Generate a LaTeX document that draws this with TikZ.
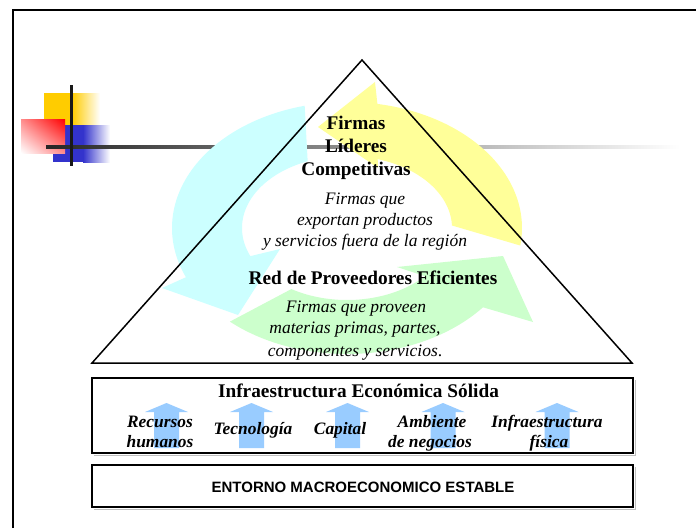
\documentclass[tikz,border=0pt]{standalone}
\usepackage{fontspec}
\usetikzlibrary{shadings}
\setmainfont{Liberation Serif}
\newfontfamily\arialfont{Liberation Sans}
\definecolor{cyanfill}{RGB}{204,255,255}
\definecolor{yellowfill}{RGB}{255,255,153}
\definecolor{greenfill}{RGB}{204,255,204}
\definecolor{arrowblue}{RGB}{153,204,255}
\definecolor{logoyellow}{RGB}{255,204,0}
\definecolor{logoblue}{RGB}{51,51,204}
\definecolor{logored}{RGB}{255,0,0}
\tikzset{
  ttl/.style={font=\fontsize{19.3}{22}\selectfont\bfseries, inner sep=0pt, text height=0.9em, text depth=0.05em},
  desc/.style={font=\fontsize{17.5}{20}\selectfont\itshape, inner sep=0pt, text height=0.9em, text depth=0.05em},
  word/.style={font=\fontsize{17.4}{20}\selectfont\bfseries\itshape, inner sep=0pt, text height=0.9em, text depth=0.05em},
  boxframe/.style={draw=black, line width=2pt},
  boxshadow/.style={draw=black!25, line width=1pt},
  upar/.style={fill=arrowblue},
  frameline/.style={line width=2.5pt, black},
}
\newcommand{\boxarrow}[1]{%
  \fill[upar] ({#1-12.5},448) -- ({#1-12.5},412) -- ({#1-21.5},412) -- (#1,403) -- ({#1+21.5},412) -- ({#1+12.5},412) -- ({#1+12.5},448) -- cycle;}
\begin{document}
\begin{tikzpicture}[x=1pt,y=-1pt]
\useasboundingbox (0,0) rectangle (696,528);
\fill[white] (0,0) rectangle (696,528);
% frame
\draw[frameline] (13,528) -- (13,10) -- (696,10);
% logo squares
\fill[logoyellow] (44,93) rectangle (72,125);
\shade[left color=logoyellow, right color=white] (72,93) rectangle (100,125);
\fill[logoblue] (53,125) rectangle (83,162);
\shade[left color=logoblue, right color=white] (83,125) rectangle (110,162);
\shade[upper right=logored, upper left=logored!45, lower right=logored!45, lower left=white] (21,119) rectangle (65,153);
% gradient rule
\shade[left color=black!85, middle color=black!22, right color=white] (46,145.5) rectangle (680,148.5);
\draw[line width=3pt, black!90] (71,85) -- (71,166);
% cycle arrows
\fill[cyanfill] plot[domain=256:157, samples=60, variable=\t] ({347+175*cos(\t)},{228+126*sin(\t)})
  -- (162,288) -- (238,315) -- (280,249)
  -- plot[domain=157:248, samples=60, variable=\t] ({347+105*cos(\t)},{228+72*sin(\t)}) -- cycle;
\fill[yellowfill] plot[domain=8:-80, samples=60, variable=\t] ({347+175*cos(\t)},{228+126*sin(\t)})
  -- (375,82) -- (318,127) -- (378,168)
  -- plot[domain=-73:-2, samples=60, variable=\t] ({347+105*cos(\t)},{228+72*sin(\t)}) -- cycle;
\fill[greenfill] plot[domain=132:39, samples=60, variable=\t] ({347+175*cos(\t)},{228+126*sin(\t)})
  -- (533,322) -- (503,256) -- (397,267)
  -- plot[domain=42:122, samples=60, variable=\t] ({347+105*cos(\t)},{228+72*sin(\t)}) -- cycle;
% pyramid
\coordinate (apex) at (362,60);
\coordinate (bl) at (92,363);
\coordinate (br) at (632,363);
\draw[line width=1.5pt, line join=miter] (bl) -- (apex) -- (br) -- cycle;
% pyramid texts
\node[ttl] (t1) at (356,125) {Firmas};
\node[ttl] (t2) at (356,148) {Líderes};
\node[ttl] (t3) at (356,171) {Competitivas};
\node[desc] (d1) at (365,200) {Firmas que};
\node[desc] (d2) at (365,221) {exportan productos};
\node[desc] (d3) at (365,242) {y servicios fuera de la región};
\node[ttl] (r1) at (373,280) {Red de Proveedores Eficientes};
\node[desc] (p1) at (356,308) {Firmas que proveen};
\node[desc] (p2) at (355,329) {materias primas, partes,};
\node[desc] (p3) at (355,352) {componentes y servicios{\upshape .}};
% infrastructure box
\draw[boxshadow] (635,380) -- (635,455) -- (94,455);
\draw[boxframe] (92,378) rectangle (633,453);
\boxarrow{166.5}
\boxarrow{251.5}
\boxarrow{347.5}
\boxarrow{443}
\boxarrow{557}
\node[ttl] (inf) at (358.5,393) {Infraestructura Económica Sólida};
\node[word] (w1a) at (160,423) {Recursos};
\node[word] (w1b) at (160,443) {humanos};
\node[word] (w2) at (253,430.5) {Tecnología};
\node[word] (w3) at (340,430.5) {Capital};
\node[word] (w4a) at (432,423) {Ambiente};
\node[word] (w4b) at (430,443) {de negocios};
\node[word] (w5a) at (547,423) {Infraestructura};
\node[word] (w5b) at (549,443) {física};
% macro box
\draw[boxshadow] (635,467) -- (635,509) -- (94,509);
\draw[boxframe] (92,465) rectangle (633,507);
\node[font=\arialfont\bfseries\fontsize{15}{18}\selectfont, inner sep=0pt] (ent) at (363,487) {ENTORNO MACROECONOMICO ESTABLE};
\end{tikzpicture}
\end{document}
